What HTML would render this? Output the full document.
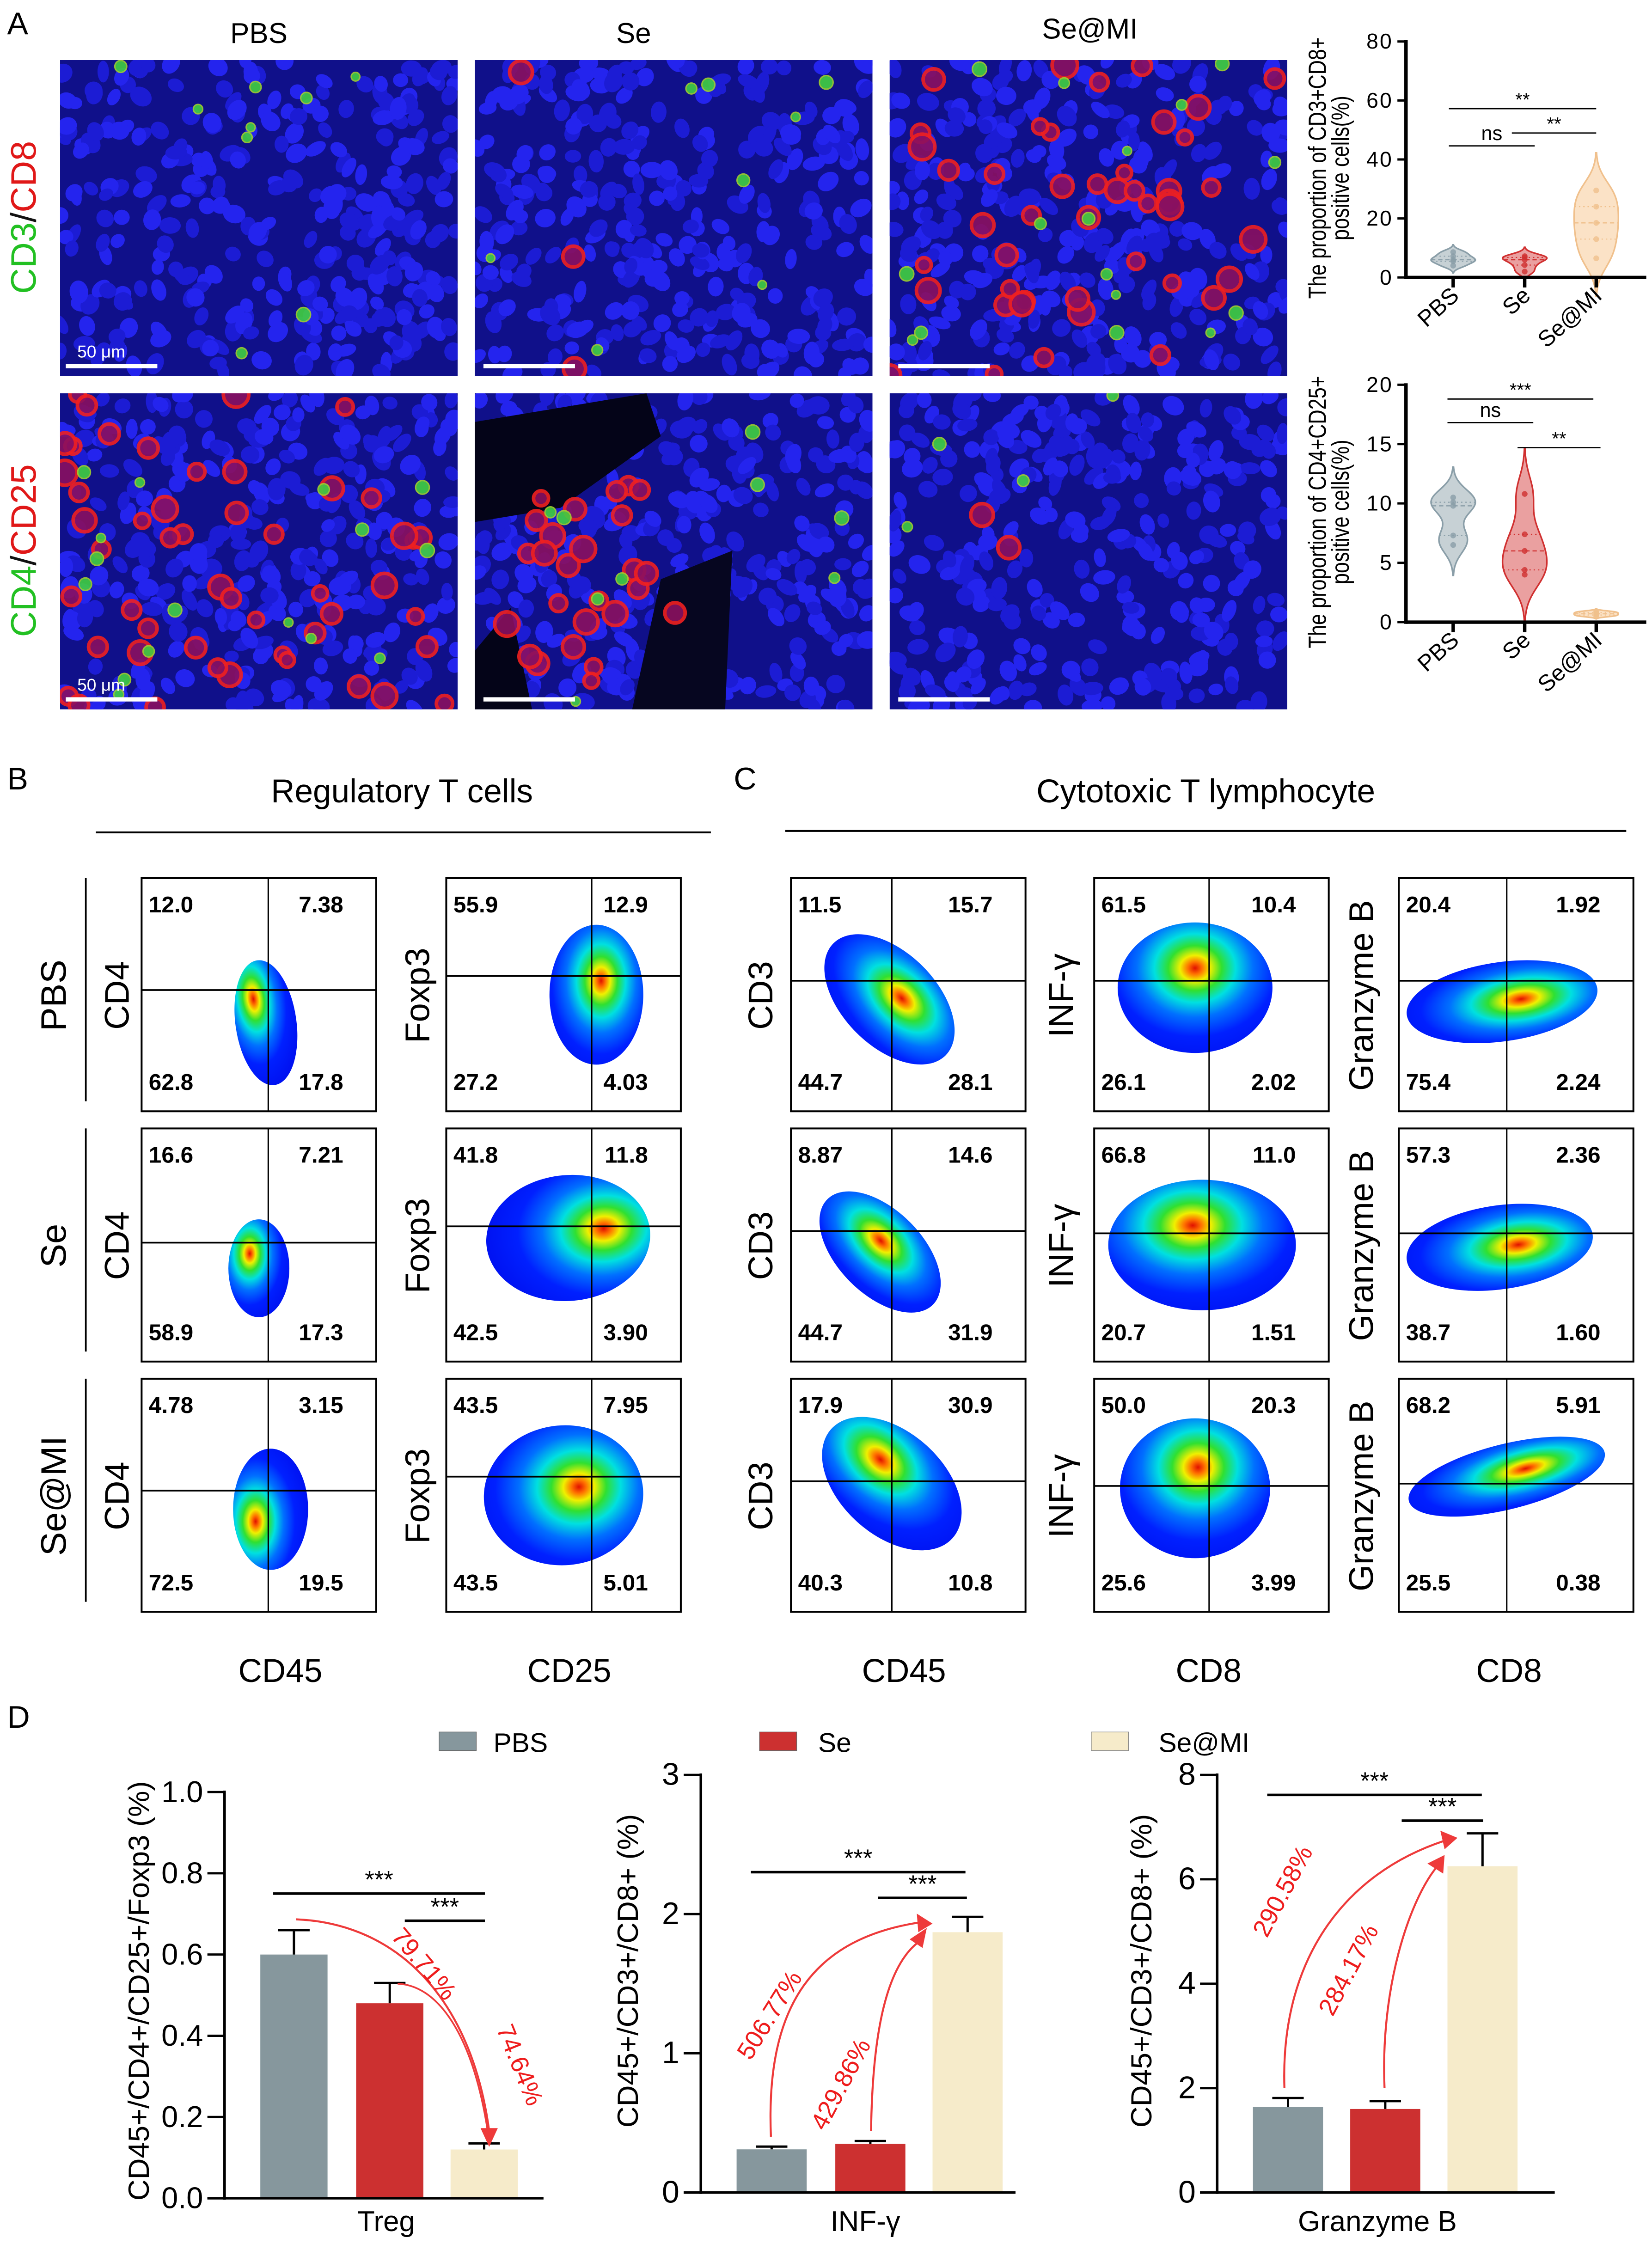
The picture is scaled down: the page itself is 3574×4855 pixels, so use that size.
<!DOCTYPE html>
<html><head><meta charset="utf-8">
<style>
html,body{margin:0;padding:0;background:#fff;}
svg{display:block;}
text{font-family:"Liberation Sans",sans-serif;}
.n{font-family:"Liberation Sans Narrow","Liberation Sans",sans-serif;}
</style></head>
<body>
<svg id="fig" xmlns="http://www.w3.org/2000/svg" width="3574" height="4855" viewBox="0 0 1155 1569" preserveAspectRatio="none">
<defs id="defs"></defs>
<rect x="0" y="0" width="1155" height="1569" fill="#fff"/>
<text x="5" y="24" font-size="22">A</text>
<text x="181" y="30" font-size="20" text-anchor="middle">PBS</text>
<text x="443" y="30" font-size="20" text-anchor="middle">Se</text>
<text x="762" y="27" font-size="20" text-anchor="middle">Se@MI</text>
<text transform="translate(25,152) rotate(-90)" font-size="25" text-anchor="middle"><tspan fill="#22c022">CD3</tspan><tspan fill="#111">/</tspan><tspan fill="#e01818">CD8</tspan></text>
<text transform="translate(25,385) rotate(-90)" font-size="25" text-anchor="middle"><tspan fill="#22c022">CD4</tspan><tspan fill="#111">/</tspan><tspan fill="#e01818">CD25</tspan></text>
<g id="micro"></g>
<g id="violins"></g>

<text x="5" y="552" font-size="22">B</text>
<text x="281" y="561" font-size="23" text-anchor="middle">Regulatory T cells</text>
<line x1="67" y1="582" x2="497" y2="582" stroke="#000" stroke-width="1.3"/>
<text x="513" y="552" font-size="22">C</text>
<text x="843" y="561" font-size="23" text-anchor="middle">Cytotoxic T lymphocyte</text>
<line x1="549" y1="581" x2="1137" y2="581" stroke="#000" stroke-width="1.3"/>
<g id="flow"></g>
<text x="196" y="1176" font-size="23" text-anchor="middle">CD45</text>
<text x="398" y="1176" font-size="23" text-anchor="middle">CD25</text>
<text x="632" y="1176" font-size="23" text-anchor="middle">CD45</text>
<text x="845" y="1176" font-size="23" text-anchor="middle">CD8</text>
<text x="1055" y="1176" font-size="23" text-anchor="middle">CD8</text>

<text x="5" y="1208" font-size="22">D</text>
<g>
<rect x="307" y="1211" width="26" height="13" fill="#86979d" stroke="#666" stroke-width="0.4"/>
<text x="345" y="1225" font-size="19">PBS</text>
<rect x="531" y="1211" width="26" height="13" fill="#cc3030" stroke="#666" stroke-width="0.4"/>
<text x="572" y="1225" font-size="19">Se</text>
<rect x="763" y="1211" width="26" height="13" fill="#f6ebca" stroke="#888" stroke-width="0.4"/>
<text x="810" y="1225" font-size="19">Se@MI</text>
</g>
<g id="bars"></g>
</svg>
<script>
// ===== Bar chart data =====
const groups = ['PBS', 'Se', 'Se@MI'];
const tregMean = [0.60, 0.48, 0.12];
const tregErr = [0.06, 0.05, 0.015];
const infMean = [0.31, 0.35, 1.87];
const infErr = [0.02, 0.02, 0.11];
const gzbMean = [1.64, 1.60, 6.25];
const gzbErr = [0.17, 0.15, 0.63];
const tregTicks = ['0.0', '0.2', '0.4', '0.6', '0.8', '1.0'];
const infTicks = ['0', '1', '2', '3'];
const gzbTicks = ['0', '2', '4', '6', '8'];
const tregPct = ['79.71%', '74.64%'];
const infPct = ['506.77%', '429.86%'];
const gzbPct = ['290.58%', '284.17%'];
// ===== Violin data =====
const vioGroups = ['PBS', 'Se', 'Se@MI'];
const cd8Pbs = [4, 5.5, 6, 7.2, 8.6];
const cd8Se = [2, 4.2, 6, 6.8, 7.2];
const cd8Mi = [6.5, 13, 18.5, 24, 29.5];
const cd25Pbs = [6.5, 7.3, 9.8, 10.1, 10.5];
const cd25Se = [4, 4.4, 6, 7.4, 10.8];
const cd25Mi = [0.5, 0.6, 0.7, 0.8, 0.9];
const cd8Ticks = ['0', '20', '40', '60', '80'];
const cd25Ticks = ['0', '5', '10', '15', '20'];
// ===== Flow data =====
const flowRows = ['PBS', 'Se', 'Se@MI'];
const flowPbs = [['12.0','7.38','62.8','17.8'],['55.9','12.9','27.2','4.03'],['11.5','15.7','44.7','28.1'],['61.5','10.4','26.1','2.02'],['20.4','1.92','75.4','2.24']];
const flowSe = [['16.6','7.21','58.9','17.3'],['41.8','11.8','42.5','3.90'],['8.87','14.6','44.7','31.9'],['66.8','11.0','20.7','1.51'],['57.3','2.36','38.7','1.60']];
const flowMi = [['4.78','3.15','72.5','19.5'],['43.5','7.95','43.5','5.01'],['17.9','30.9','40.3','10.8'],['50.0','20.3','25.6','3.99'],['68.2','5.91','25.5','0.38']];

const NS = 'http://www.w3.org/2000/svg';
function mk(tag, attrs, parent) {
  const e = document.createElementNS(NS, tag);
  for (const k in attrs) e.setAttribute(k, attrs[k]);
  parent.appendChild(e);
  return e;
}
function txt(str, attrs, parent) {
  const e = mk('text', attrs, parent);
  e.textContent = str;
  return e;
}
const defs = document.getElementById('defs');

// ===== Microscopy (decorative texture) =====
let seed = 7;
function rnd() { seed = (seed * 16807) % 2147483647; return (seed - 1) / 2147483646; }
const micro = document.getElementById('micro');
const panels = [
  {x:42,y:42,red:0,green:9,dark:0,bar:true},
  {x:332,y:42,red:3,green:8,dark:0,bar:false},
  {x:622,y:42,red:45,green:16,dark:0,bar:false},
  {x:42,y:275,red:50,green:16,dark:0,bar:true},
  {x:332,y:275,red:26,green:9,dark:1,bar:false},
  {x:622,y:275,red:2,green:4,dark:0,bar:false}
];
panels.forEach((p, i) => {
  const W = 278, H = 221;
  const cp = mk('clipPath', {id: 'clip' + i}, defs);
  mk('rect', {x: p.x, y: p.y, width: W, height: H}, cp);
  const g = mk('g', {'clip-path': 'url(#clip' + i + ')'}, micro);
  
  
  mk('rect', {x: p.x, y: p.y, width: W, height: H, fill: '#10108a'}, g);
  const nucN = 330;
  for (let k = 0; k < nucN; k++) {
    const cx = p.x + rnd() * W, cy = p.y + rnd() * H;
    mk('ellipse', {cx: cx, cy: cy, rx: 5 + rnd() * 3, ry: 4 + rnd() * 2.5, fill: rnd() < 0.5 ? '#2424ee' : '#1c1cd4', transform: 'rotate(' + (rnd() * 180) + ' ' + cx + ' ' + cy + ')'}, g);
  }
  if (p.dark) {
    mk('path', {d: 'M' + p.x + ' ' + (p.y + 20) + ' L' + (p.x + 120) + ' ' + p.y + ' L' + (p.x + 130) + ' ' + (p.y + 30) + ' L' + (p.x + 60) + ' ' + (p.y + 80) + ' L' + p.x + ' ' + (p.y + 90) + 'Z', fill: '#040418'}, g);
    mk('path', {d: 'M' + (p.x + 110) + ' ' + (p.y + H) + ' L' + (p.x + 130) + ' ' + (p.y + 130) + ' L' + (p.x + 180) + ' ' + (p.y + 110) + ' L' + (p.x + 175) + ' ' + (p.y + H) + 'Z', fill: '#060620'}, g);
    mk('path', {d: 'M' + p.x + ' ' + (p.y + 180) + ' L' + (p.x + 25) + ' ' + (p.y + 150) + ' L' + (p.x + 40) + ' ' + (p.y + H) + ' L' + p.x + ' ' + (p.y + H) + 'Z', fill: '#040418'}, g);
  }
  for (let k = 0; k < p.red; k++) {
    let cx = p.x + rnd() * W, cy = p.y + rnd() * H;
    if (p.dark) { cx = p.x + 20 + rnd() * 120; cy = p.y + 60 + rnd() * 150; }
    const r = 5 + rnd() * 4;
    mk('circle', {cx: cx, cy: cy, r: r, fill: '#8a1060', stroke: '#f02020', 'stroke-width': 2.5, opacity: 0.9}, g);
  }
  for (let k = 0; k < p.green; k++) {
    const cx = p.x + rnd() * W, cy = p.y + rnd() * H;
    mk('circle', {cx: cx, cy: cy, r: 3 + rnd() * 2, fill: '#40d040', stroke: '#a0d030', 'stroke-width': 1, opacity: 0.9}, g);
  }
  const bx = p.x + (p.bar ? 4 : 6);
  const by = p.y + 214;
  const sb = mk('line', {x1: bx, y1: by, x2: bx + 64, y2: by, stroke: '#fff', 'stroke-width': 3}, g);
  
  
  if (p.bar) {
    const sl = txt('50 μm', {x: bx + 8, y: by - 6, 'font-size': 12, fill: '#fff'}, g);
    
    
  }
});

// ===== Violins =====
const vioG = document.getElementById('violins');
const vioCols = [{f:'#c7d1d5',s:'#8a9ea8'},{f:'#eaa0a0',s:'#d03030'},{f:'#fbe2c6',s:'#f0c08c'}];
function kde(vals, y) {
  const n = vals.length, m = vals.reduce((a,b)=>a+b,0)/n;
  const sd = Math.sqrt(vals.reduce((a,b)=>a+(b-m)*(b-m),0)/(n-1)) || 0.1;
  const bw = 0.75 * sd * Math.pow(n, -0.2);
  let s = 0; vals.forEach(v => { s += Math.exp(-0.5 * Math.pow((y - v) / bw, 2)); });
  return {d: s, bw: bw};
}
function violinChart(cfg) {
  const g = mk('g', {}, vioG);
  
  
  const ax = 983, x1 = 1151, yT = cfg.yTop, yB = cfg.yBot;
  const yv = v => yB - (v / cfg.max) * (yB - yT);
  const xs = [1016, 1066, 1116];
  cfg.series.forEach((vals, i) => {
    const info = kde(vals, vals[0]);
    const bw = info.bw;
    const lo = Math.min(...vals) - 2.6 * bw, hi = Math.max(...vals) + 2.6 * bw;
    const pts = []; let mx = 0;
    for (let k = 0; k <= 60; k++) { const v = lo + (hi - lo) * k / 60; const d = kde(vals, v).d; pts.push([v, d]); if (d > mx) mx = d; }
    const hw = 15.5;
    let dpath = '';
    pts.forEach((p, k) => { dpath += (k ? 'L' : 'M') + (xs[i] + p[1] / mx * hw).toFixed(2) + ' ' + yv(p[0]).toFixed(2); });
    for (let k = pts.length - 1; k >= 0; k--) dpath += 'L' + (xs[i] - pts[k][1] / mx * hw).toFixed(2) + ' ' + yv(pts[k][0]).toFixed(2);
    dpath += 'Z';
    const vp = mk('path', {d: dpath, fill: vioCols[i].f, stroke: vioCols[i].s, 'stroke-width': 1.1}, g);
    
    
    const sorted = vals.slice().sort((a,b)=>a-b);
    const med = sorted[Math.floor(sorted.length / 2)];
    const md = kde(vals, med).d / mx * hw;
    mk('line', {x1: xs[i] - md, x2: xs[i] + md, y1: yv(med), y2: yv(med), stroke: vioCols[i].s, 'stroke-width': 0.8, 'stroke-dasharray': '3,2'}, g);
    [sorted[1], sorted[3]].forEach(q => { const qd = kde(vals, q).d / mx * hw; mk('line', {x1: xs[i] - qd, x2: xs[i] + qd, y1: yv(q), y2: yv(q), stroke: vioCols[i].s, 'stroke-width': 0.7, 'stroke-dasharray': '1,2'}, g); });
    vals.forEach(v => {
      const c = mk('circle', {cx: xs[i], cy: yv(v), r: 2, fill: vioCols[i].s, opacity: 0.8}, g);
      
      
    });
    mk('line', {x1: xs[i], x2: xs[i], y1: yB, y2: yB + 7, stroke: '#000', 'stroke-width': 2.4}, g);
    const cl = txt(vioGroups[i], {transform: 'translate(' + (xs[i] + 5) + ',' + (yB + 14) + ') rotate(-42)', 'font-size': 16, 'text-anchor': 'end'}, g);
    
    
  });
  mk('line', {x1: ax, y1: yT - 1, x2: ax, y2: yB + 1.2, stroke: '#000', 'stroke-width': 2.4}, g);
  mk('line', {x1: ax, y1: yB, x2: x1, y2: yB, stroke: '#000', 'stroke-width': 2.4}, g);
  cfg.ticks.forEach((t, k) => {
    const v = cfg.max * k / (cfg.ticks.length - 1);
    mk('line', {x1: ax - 6, x2: ax, y1: yv(v), y2: yv(v), stroke: '#000', 'stroke-width': 1.6}, g);
    const tl = txt(t, {x: ax - 9, y: yv(v) + 5, 'font-size': 15, 'text-anchor': 'end', 'letter-spacing': '1'}, g);
    
    
  });
  const yl = mk('text', {transform: 'translate(' + 927 + ',' + ((yT + yB) / 2 + 6) + ') rotate(-90) scale(0.8,1)', 'font-size': 17.5, 'text-anchor': 'middle', class: 'n'}, g);
  
  
  const t1 = mk('tspan', {x: 0, y: 0}, yl); t1.textContent = cfg.title;
  const t2 = mk('tspan', {x: 0, y: 16}, yl); t2.textContent = 'positive cells(%)';
  cfg.sig.forEach(s => {
    mk('line', {x1: s[0], x2: s[1], y1: s[2], y2: s[2], stroke: '#000', 'stroke-width': 0.9}, g);
    const st = txt(s[3], {x: (s[0] + s[1]) / 2, y: s[2] - (s[3] === 'ns' ? 4 : 2), 'font-size': s[3] === 'ns' ? 14 : 13, 'text-anchor': 'middle', 'font-family': 'Liberation Serif, serif'}, g);
    
    
  });
}
violinChart({name: 'violin-cd3-cd8', yTop: 29, yBot: 194, max: 80, ticks: cd8Ticks, series: [cd8Pbs, cd8Se, cd8Mi], title: 'The proportion of CD3+CD8+',
  sig: [[1013, 1116, 76, '**'], [1013, 1073, 102, 'ns'], [1057, 1116, 93, '**']]});
violinChart({name: 'violin-cd4-cd25', yTop: 269, yBot: 435, max: 20, ticks: cd25Ticks, series: [cd25Pbs, cd25Se, cd25Mi], title: 'The proportion of CD4+CD25+',
  sig: [[1012, 1114, 279, '***'], [1012, 1072, 295.5, 'ns'], [1061, 1119, 313, '**']]});

// ===== Flow cytometry =====
const flowG = document.getElementById('flow');
const rowTops = [614, 789, 964];
const colLefts = [99, 312, 553, 765, 978];
const yLabels = ['CD4', 'Foxp3', 'CD3', 'INF-γ', 'Granzyme B'];
const yLabelX = [90, 300, 540, 750, 960];
const qLines = [
  [[.54,.48],[.62,.42],[.43,.44],[.49,.44],[.46,.44]],
  [[.54,.49],[.62,.42],[.43,.44],[.49,.45],[.46,.45]],
  [[.54,.48],[.62,.42],[.43,.44],[.49,.46],[.46,.45]]
];
const blobs = [
  [[.53,.62,.13,.27,-8,.35,.3],[.64,.5,.2,.3,0,.55,.4],[.42,.52,.2,.34,-45,.6,.55],[.43,.47,.33,.28,0,.5,.35],[.44,.53,.41,.17,-8,.6,.5]],
  [[.5,.6,.13,.21,0,.35,.35],[.52,.47,.35,.27,-5,.72,.45],[.38,.53,.18,.32,-45,.6,.45],[.46,.5,.4,.28,0,.45,.35],[.43,.51,.4,.18,-8,.6,.5]],
  [[.55,.56,.16,.26,0,.3,.6],[.5,.5,.34,.3,-5,.6,.45],[.43,.45,.22,.35,-48,.6,.35],[.43,.47,.32,.3,0,.52,.35],[.46,.42,.43,.14,-14,.6,.45]]
];
const flowData = [flowPbs, flowSe, flowMi];
let gid = 0;
flowRows.forEach((rn, r) => {
  const top = rowTops[r];
  const rl = mk('line', {x1: 60, x2: 60, y1: top, y2: top + 156, stroke: '#000', 'stroke-width': 1.2}, flowG);
  
  
  const rt = txt(rn, {transform: 'translate(46,' + (top + 82) + ') rotate(-90)', 'font-size': 25, 'text-anchor': 'middle'}, flowG);
  
  
  colLefts.forEach((x, c) => {
    const W = 164, H = 163;
    const g = mk('g', {}, flowG);
    
    
    const b = blobs[r][c];
    const id = 'fg' + (gid++);
    const gr = mk('radialGradient', {id: id, cx: b[5], cy: b[6], fx: b[5], fy: b[6], r: 0.75}, defs);
    [[0,'#e01000'],[0.06,'#ff7000'],[0.13,'#f0f000'],[0.23,'#30e030'],[0.35,'#00e0e0'],[0.5,'#0070ff'],[0.7,'#0020ff'],[1,'#0010f0']].forEach(s => mk('stop', {offset: s[0], 'stop-color': s[1]}, gr));
    const bcx = x + b[0] * W, bcy = top + b[1] * H;
    const bl = mk('ellipse', {cx: bcx, cy: bcy, rx: b[2] * W, ry: b[3] * H, fill: 'url(#' + id + ')', transform: 'rotate(' + b[4] + ' ' + bcx + ' ' + bcy + ')'}, g);
    
    
    const fr = mk('rect', {x: x, y: top, width: W, height: H, fill: 'none', stroke: '#000', 'stroke-width': 1.3}, g);
    
    
    const q = qLines[r][c];
    mk('line', {x1: x + q[0] * W, x2: x + q[0] * W, y1: top, y2: top + H, stroke: '#000', 'stroke-width': 1}, g);
    mk('line', {x1: x, x2: x + W, y1: top + q[1] * H, y2: top + q[1] * H, stroke: '#000', 'stroke-width': 1.2}, g);
    const v = flowData[r][c];
    const pos = [[x + 5, top + 24, 'start'], [x + 141, top + 24, 'end'], [x + 5, top + 148, 'start'], [x + 141, top + 148, 'end']];
    pos.forEach((p, k) => {
      const t = txt(v[k], {x: p[0], y: p[1], 'font-size': 16, 'font-weight': 'bold', 'text-anchor': p[2], class: 'n'}, g);
      
      
    });
    const yl = txt(yLabels[c], {transform: 'translate(' + yLabelX[c] + ',' + (top + 82) + ') rotate(-90)', 'font-size': 24, 'text-anchor': 'middle'}, g);
    
    
  });
});

// ===== Bar charts =====
const barsG = document.getElementById('bars');
const barColors = ['#86979d', '#cc3030', '#f6ebca'];
function barChart(cfg) {
  const g = mk('g', {}, barsG);
  
  
  const yv = v => cfg.y0 - v / cfg.max * (cfg.y0 - cfg.yTop);
  cfg.mean.forEach((m, i) => {
    const bx = cfg.bx[i];
    const r = mk('rect', {x: bx, y: yv(m), width: cfg.bw, height: cfg.y0 - yv(m), fill: barColors[i]}, g);
    
    
    const cx = bx + cfg.bw / 2, et = yv(m + cfg.err[i]);
    const eb = mk('path', {d: 'M' + cx + ' ' + yv(m) + 'V' + et + 'M' + (cx - 11) + ' ' + et + 'H' + (cx + 11), stroke: '#000', 'stroke-width': 1.6, fill: 'none'}, g);
    
    
  });
  mk('line', {x1: cfg.ax, x2: cfg.ax, y1: cfg.yTop - 1, y2: cfg.y0 + 1, stroke: '#000', 'stroke-width': 1.8}, g);
  mk('line', {x1: cfg.ax - 12, x2: cfg.xEnd, y1: cfg.y0, y2: cfg.y0, stroke: '#000', 'stroke-width': 1.8}, g);
  cfg.ticks.forEach((t, k) => {
    const v = cfg.max * k / (cfg.ticks.length - 1);
    mk('line', {x1: cfg.ax - 12, x2: cfg.ax, y1: yv(v), y2: yv(v), stroke: '#000', 'stroke-width': 1.6}, g);
    const tl = txt(t, {x: cfg.ax - 15, y: yv(v) + 7, 'font-size': cfg.tickFs, 'text-anchor': 'end', class: cfg.narrow ? 'n' : ''}, g);
    
    
  });
  const yt = txt(cfg.ytitle, {transform: 'translate(' + cfg.ytx + ',' + cfg.yty + ') rotate(-90)', 'font-size': 20.5, 'text-anchor': 'middle'}, g);
  
  
  const xt = txt(cfg.xlabel, {x: cfg.xlx, y: 1560, 'font-size': 20, 'text-anchor': 'middle', class: cfg.narrow ? 'n' : ''}, g);
  
  
  cfg.sig.forEach(s => {
    const sl = mk('line', {x1: s[0], x2: s[1], y1: s[2], y2: s[2], stroke: '#000', 'stroke-width': 1.8}, g);
    
    
    const st = txt('***', {x: (s[0] + s[1]) / 2, y: s[2] - 4, 'font-size': 17, 'text-anchor': 'middle'}, g);
    
    
  });
  cfg.arrows.forEach((a, k) => {
    const ar = mk('path', {d: a.d, stroke: '#ee3a3a', 'stroke-width': a.w || 1.4, fill: 'none'}, g);
    
    
    const hd = mk('polygon', {points: a.head, fill: '#ee3a3a'}, g);
    
    
    const pt = txt(cfg.pct[k], {transform: 'translate(' + a.tx + ',' + a.ty + ') rotate(' + a.rot + ')', 'font-size': 17.5, fill: '#ee1c1c', 'text-anchor': 'middle'}, g);
    
    
  });
}
barChart({name: 'treg-bar-chart', ax: 157, xEnd: 380, y0: 1537, yTop: 1253, max: 1, ticks: tregTicks, tickFs: 21,
  bx: [182, 249, 315], bw: 47, mean: tregMean, err: tregErr, ytitle: 'CD45+/CD4+/CD25+/Foxp3  (%)', ytx: 104, yty: 1392,
  xlabel: 'Treg', xlx: 270, sig: [[191, 339, 1324], [283, 339, 1343]], pct: tregPct,
  arrows: [
    {d: 'M207 1342 C 280 1345, 330 1400, 342 1490', head: '336,1488 348,1488 342,1501', tx: 292, ty: 1377, rot: 50},
    {d: 'M278 1387 C 305 1388, 330 1420, 341 1490', head: '336,1488 348,1488 342,1501', tx: 358, ty: 1446, rot: 68, w: 1.2}
  ]});
barChart({name: 'ifn-bar-chart', ax: 490, xEnd: 710, y0: 1533, yTop: 1241, max: 3, ticks: infTicks, tickFs: 22, narrow: true,
  bx: [515, 584, 652], bw: 49, mean: infMean, err: infErr, ytitle: 'CD45+/CD3+/CD8+  (%)', ytx: 446, yty: 1378,
  xlabel: 'INF-γ', xlx: 605, sig: [[525, 675, 1309], [614, 676, 1327]], pct: infPct,
  arrows: [
    {d: 'M539 1494 C 535 1400, 570 1355, 644 1344', head: '641,1338 652,1345 642,1351', tx: 543, ty: 1412, rot: -58},
    {d: 'M609 1490 C 610 1420, 620 1375, 642 1358', head: '636,1356 648,1348 645,1362', tx: 593, ty: 1460, rot: -62}
  ]});
barChart({name: 'granzyme-bar-chart', ax: 851, xEnd: 1087, y0: 1533, yTop: 1241, max: 8, ticks: gzbTicks, tickFs: 22, narrow: true,
  bx: [876, 944, 1012], bw: 49, mean: gzbMean, err: gzbErr, ytitle: 'CD45+/CD3+/CD8+  (%)', ytx: 805, yty: 1378,
  xlabel: 'Granzyme  B', xlx: 963, sig: [[886, 1036, 1255], [980, 1037, 1273]], pct: gzbPct,
  arrows: [
    {d: 'M898 1460 C 895 1370, 940 1310, 1010 1287', head: '1007,1280 1019,1285 1010,1293', tx: 902, ty: 1325, rot: -62},
    {d: 'M968 1460 C 965 1390, 985 1330, 1004 1306', head: '998,1303 1010,1297 1009,1310', tx: 948, ty: 1380, rot: -62}
  ]});
</script>
</body></html>
